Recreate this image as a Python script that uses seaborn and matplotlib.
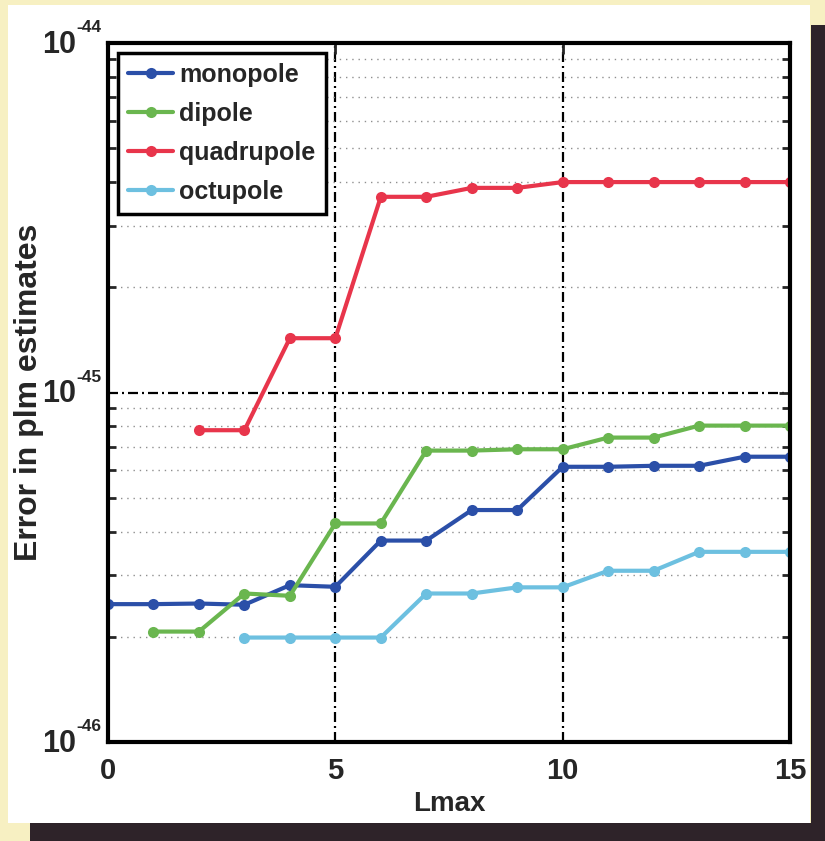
import numpy as np
import pandas as pd
import matplotlib
matplotlib.use("Agg")
import matplotlib.pyplot as plt
from matplotlib.patches import Rectangle
from matplotlib.ticker import FixedLocator, LogLocator, NullFormatter
from matplotlib.transforms import blended_transform_factory, offset_copy
import seaborn as sns

# ---- data ----
lmax_mono = [0, 1, 2, 3, 4, 5, 6, 7, 8, 9, 10, 11, 12, 13, 14, 15]
err_mono = [2.48e-46, 2.48e-46, 2.49e-46, 2.47e-46, 2.81e-46, 2.78e-46, 3.77e-46, 3.77e-46,
            4.61e-46, 4.61e-46, 6.13e-46, 6.13e-46, 6.17e-46, 6.17e-46, 6.55e-46, 6.55e-46]
lmax_di = [1, 2, 3, 4, 5, 6, 7, 8, 9, 10, 11, 12, 13, 14, 15]
err_di = [2.07e-46, 2.07e-46, 2.66e-46, 2.62e-46, 4.22e-46, 4.22e-46, 6.82e-46, 6.82e-46,
          6.88e-46, 6.88e-46, 7.43e-46, 7.43e-46, 8.04e-46, 8.04e-46, 8.04e-46]
lmax_quad = [2, 3, 4, 5, 6, 7, 8, 9, 10, 11, 12, 13, 14, 15]
err_quad = [7.8e-46, 7.8e-46, 1.43e-45, 1.43e-45, 3.63e-45, 3.63e-45, 3.85e-45, 3.85e-45,
            4.0e-45, 4.0e-45, 4.0e-45, 4.0e-45, 4.0e-45, 4.0e-45]
lmax_oct = [3, 4, 5, 6, 7, 8, 9, 10, 11, 12, 13, 14, 15]
err_oct = [1.99e-46, 1.99e-46, 1.99e-46, 1.99e-46, 2.66e-46, 2.66e-46, 2.77e-46, 2.77e-46,
           3.09e-46, 3.09e-46, 3.50e-46, 3.50e-46, 3.50e-46]
series_names = ["monopole", "dipole", "quadrupole", "octupole"]
colors = ["#2b4fa8", "#6ab64f", "#e8354b", "#6dc0e0"]
xtick_vals = [0, 5, 10, 15]
xtick_labels = ["0", "5", "10", "15"]
ytick_vals = [1e-46, 1e-45, 1e-44]
ytick_exps = ["-46", "-45", "-44"]

frames = []
for name, xs, ys in zip(series_names,
                        [lmax_mono, lmax_di, lmax_quad, lmax_oct],
                        [err_mono, err_di, err_quad, err_oct]):
    frames.append(pd.DataFrame({"Lmax": xs, "err": ys, "series": name}))
df = pd.concat(frames, ignore_index=True)

# ---- style ----
sns.set_style("white")
plt.rcParams["font.family"] = ["Liberation Sans", "DejaVu Sans"]
plt.rcParams["font.weight"] = "bold"

W, H = 825, 841
fig = plt.figure(figsize=(W / 100, H / 100), dpi=100)
fig.patch.set_facecolor("#f7f0c2")
dark = "#2e2329"
fig.patches.append(Rectangle((811 / W, 0), (W - 811) / W, (H - 25) / H,
                             transform=fig.transFigure, facecolor=dark, edgecolor="none", zorder=-2))
fig.patches.append(Rectangle((30 / W, 0), (W - 30) / W, (H - 823) / H,
                             transform=fig.transFigure, facecolor=dark, edgecolor="none", zorder=-2))
fig.patches.append(Rectangle((8 / W, (H - 823) / H), (810 - 8) / W, (823 - 5) / H,
                             transform=fig.transFigure, facecolor="white", edgecolor="none", zorder=-1))

ax = fig.add_axes([108 / W, (H - 742) / H, (790 - 108) / W, (742 - 43) / H])
ax.set_facecolor("white")

sns.lineplot(data=df, x="Lmax", y="err", hue="series", hue_order=series_names,
             palette=colors, marker="o", markersize=8, markeredgewidth=0,
             linewidth=3.0, ax=ax, legend=True)

ax.set_yscale("log")
ax.set_xlim(0, 15)
ax.set_ylim(1e-46, 1e-44)
ax.set_xticks(xtick_vals)
ax.set_xticklabels(xtick_labels)
ax.yaxis.set_major_locator(FixedLocator(ytick_vals))
ax.yaxis.set_major_formatter(NullFormatter())
ax.yaxis.set_minor_locator(LogLocator(base=10, subs=np.arange(2, 10), numticks=20))
ax.yaxis.set_minor_formatter(NullFormatter())

ax.tick_params(axis="both", which="major", direction="in", length=8, width=2,
               labelsize=21, top=True, right=True, pad=11)
ax.tick_params(axis="y", which="minor", direction="in", length=6, width=2, right=True, left=True)
for lab in ax.get_xticklabels():
    lab.set_fontweight("bold")

# y tick labels as 10 with a small superscript exponent
base = blended_transform_factory(ax.transAxes, ax.transData)
t_main = offset_copy(base, fig=fig, x=0, y=-10, units="dots")
t_exp = offset_copy(base, fig=fig, x=0, y=11, units="dots")
for v, e in zip(ytick_vals, ytick_exps):
    ax.text(-0.047, v, "10", transform=t_main, ha="right", va="baseline",
            fontsize=22, fontweight="bold", clip_on=False)
    ax.text(-0.046, v, e, transform=t_exp, ha="left", va="baseline",
            fontsize=12.5, fontweight="bold", clip_on=False)

# grids
ax.grid(False)
ax.grid(True, which="major", axis="both", color="black", linewidth=1.6,
        linestyle=(0, (4.5, 1.8, 0.9, 1.8)))
ax.grid(True, which="minor", axis="y", color="#8f8f8f", linewidth=1.0,
        linestyle=(0, (1, 3.5)))

for s in ax.spines.values():
    s.set_linewidth(3)
    s.set_color("black")

ax.set_xlabel("Lmax", fontsize=20, fontweight="bold", labelpad=4)
ax.set_ylabel("Error in plm estimates", fontsize=23, fontweight="bold")
ax.yaxis.set_label_coords(-0.094, 0.5)

leg = ax.legend(loc="upper left", bbox_to_anchor=(0.0, 1.0), fontsize=18,
                frameon=True, fancybox=False, handlelength=1.8, handletextpad=0.25,
                borderpad=0.4, labelspacing=0.6, borderaxespad=0.4)
leg.get_frame().set_edgecolor("black")
leg.get_frame().set_linewidth(2.5)
leg.get_frame().set_alpha(1)
for t in leg.get_texts():
    t.set_fontweight("bold")

fig.savefig("out.png", dpi=100, facecolor=fig.get_facecolor())
